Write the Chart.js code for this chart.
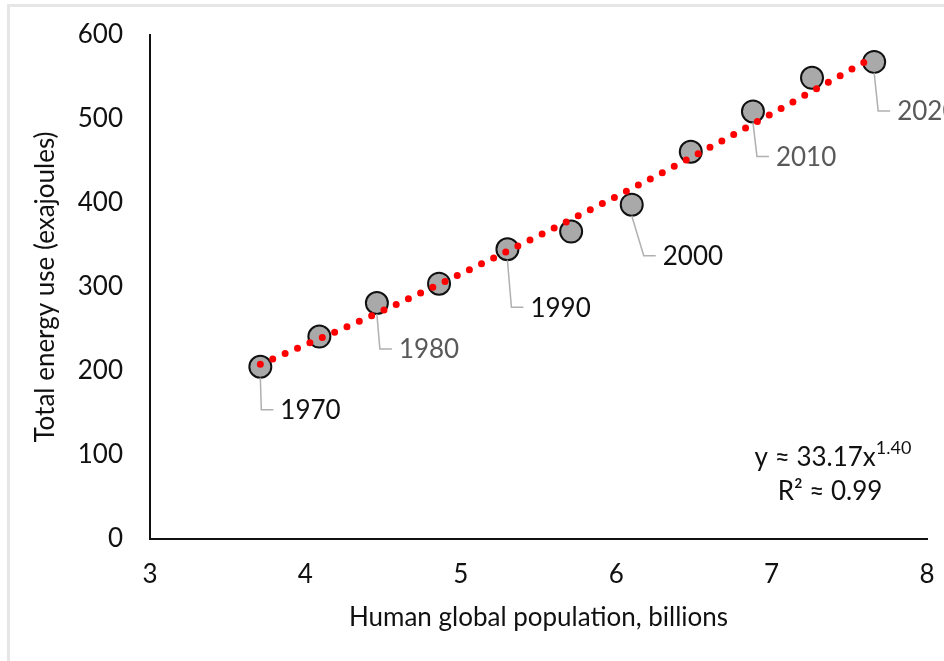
<!DOCTYPE html>
<html>
<head>
<meta charset="utf-8">
<script src="https://cdn.jsdelivr.net/npm/chart.js@4/dist/chart.umd.min.js"></script>
<style>
  html, body { margin: 0; padding: 0; background: #fff; }
  #wrap { width: 944px; height: 661px; position: relative; }
</style>
</head>
<body>
<div id="wrap"><canvas id="chart" width="944" height="661"></canvas></div>
<script>
// population (billions) vs total energy use (EJ)
const years = ['1970', '1975', '1980', '1985', '1990', '1995', '2000', '2005', '2010', '2015', '2020'];
const population = [3.71, 4.09, 4.46, 4.86, 5.30, 5.71, 6.10, 6.48, 6.88, 7.26, 7.66];
const energy = [205, 241, 281, 304, 345, 366, 398, 461, 509, 549, 568];

// power trendline
const trendX = [3.71, 4.5, 5.5, 6.5, 7.66];
const trendY = [208, 272, 361, 456, 574];

const xTicks = [3, 4, 5, 6, 7, 8];
const yTicks = [0, 100, 200, 300, 400, 500, 600];

const FONT = 'Lato, "Open Sans", sans-serif';
const FS = 26;

// which years get a callout, and where the callout sits relative to the point
const callouts = {
  '1970': { down: 43, slant: 1, color: '#111' },
  '1980': { down: 46, slant: 3, color: '#595959' },
  '1990': { down: 58, slant: 4, color: '#111' },
  '2000': { down: 51, slant: 12, color: '#111' },
  '2010': { down: 45, slant: 4, color: '#595959' },
  '2020': { down: 49, slant: 4, color: '#595959' },
};

const calloutPlugin = {
  id: 'callouts',
  afterDatasetsDraw(chart) {
    const ctx = chart.ctx;
    const meta = chart.getDatasetMeta(1);
    ctx.save();
    ctx.font = FS + 'px ' + FONT;
    ctx.textBaseline = 'middle';
    years.forEach((yr, i) => {
      const c = callouts[yr];
      if (!c) return;
      const p = meta.data[i];
      const x0 = p.x, y0 = p.y + 11;
      const x1 = p.x + c.slant, y1 = p.y + c.down;
      ctx.strokeStyle = '#b0b0b0';
      ctx.lineWidth = 1.5;
      ctx.beginPath();
      ctx.moveTo(x0, y0);
      ctx.lineTo(x1, y1);
      ctx.lineTo(x1 + 12, y1);
      ctx.stroke();
      ctx.fillStyle = c.color;
      ctx.fillText(yr, x1 + 19, y1 + 1);
    });

    // fit equation
    ctx.fillStyle = '#111';
    ctx.textBaseline = 'alphabetic';
    ctx.font = FS + 'px ' + FONT;
    const main = 'y \u2248 33.17x';
    const w1 = ctx.measureText(main).width;
    ctx.font = '18px ' + FONT;
    const sup = '1.40';
    const w2 = ctx.measureText(sup).width;
    let sx = 833 - (w1 + w2) / 2;
    ctx.font = FS + 'px ' + FONT;
    ctx.fillText(main, sx, 466);
    ctx.font = '18px ' + FONT;
    ctx.fillText(sup, sx + w1, 454);
    ctx.font = FS + 'px ' + FONT;
    ctx.textAlign = 'center';
    ctx.fillText('R\u00b2 \u2248 0.99', 830, 500);
    ctx.restore();
  },
  beforeDraw(chart) {
    const ctx = chart.ctx;
    ctx.save();
    ctx.fillStyle = '#fff';
    ctx.fillRect(0, 0, chart.width, chart.height);
    ctx.fillStyle = '#e6e6e6';
    ctx.fillRect(7, 4, 3, chart.height - 4);
    ctx.fillRect(7, 4, chart.width - 7, 3);
    ctx.restore();
  }
};

new Chart(document.getElementById('chart'), {
  type: 'scatter',
  data: {
    datasets: [
      {
        type: 'line',
        data: trendX.map((x, i) => ({ x, y: trendY[i] })),
        borderColor: '#ff0000',
        borderWidth: 7,
        borderDash: [0, 13.5],
        borderCapStyle: 'round',
        cubicInterpolationMode: 'monotone',
        pointRadius: 0,
        fill: false,
      },
      {
        data: population.map((x, i) => ({ x, y: energy[i] })),
        backgroundColor: '#a9a9a9',
        borderColor: '#111',
        borderWidth: 2,
        pointRadius: 11,
        pointHoverRadius: 11,
      },
    ],
  },
  options: {
    responsive: false,
    animation: false,
    layout: { padding: { left: 10, top: 35, right: 17, bottom: 0 } },
    plugins: {
      legend: { display: false },
      tooltip: { enabled: false },
    },
    scales: {
      x: {
        type: 'linear',
        min: 3,
        max: 8,
        afterBuildTicks: s => { s.ticks = xTicks.map(v => ({ value: v })); },
        afterFit: s => { s.height = 122; s.paddingLeft = 0; s.paddingRight = 0; },
        grid: { display: false, drawTicks: false },
        border: { display: true, color: '#111', width: 2 },
        ticks: { color: '#111', padding: 20, font: { family: FONT, size: FS } },
        title: {
          display: true,
          text: 'Human global population, billions',
          color: '#111',
          font: { family: FONT, size: FS },
          padding: { top: 0, bottom: 28 },
        },
      },
      y: {
        type: 'linear',
        min: 0,
        max: 600,
        afterBuildTicks: s => { s.ticks = yTicks.map(v => ({ value: v })); },
        afterFit: s => { s.width = 140; s.paddingTop = 0; s.paddingBottom = 0; },
        grid: { display: false, drawTicks: false },
        border: { display: true, color: '#111', width: 2 },
        ticks: { color: '#111', padding: 27, font: { family: FONT, size: FS } },
        title: {
          display: true,
          text: 'Total energy use (exajoules)',
          color: '#111',
          font: { family: FONT, size: FS },
          padding: { top: 20, bottom: 0 },
        },
      },
    },
  },
  plugins: [calloutPlugin],
});
</script>
</body>
</html>
